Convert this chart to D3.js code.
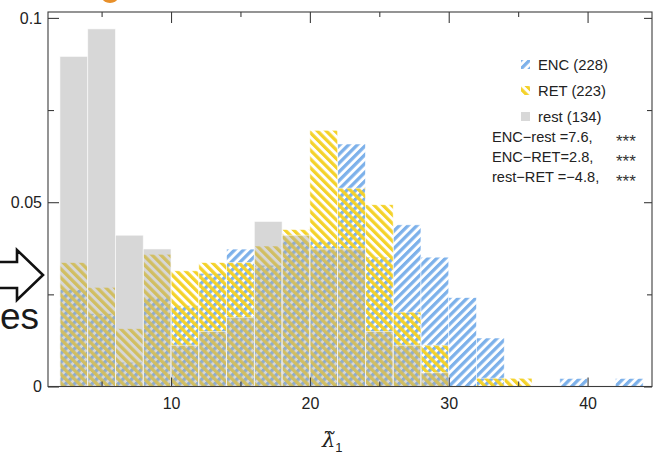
<!DOCTYPE html>
<html>
<head>
<meta charset="utf-8">
<script src="https://cdn.jsdelivr.net/npm/d3@7"></script>
<style>
  html, body { margin: 0; padding: 0; background: #fff; }
  svg { display: block; }
  text { font-family: "Liberation Sans", Arial, sans-serif; }
</style>
</head>
<body>
<svg id="chart" width="654" height="455"></svg>
<script>
// Histogram bins (width 2) of the normalised leading eigenvalue
const binEdges = [2, 4, 6, 8, 10, 12, 14, 16, 18, 20, 22, 24, 26, 28, 30, 32, 34, 36, 38, 40, 42, 44];

// Counts per bin for each condition
const encCounts  = [12, 9, 3, 11, 10, 14, 17, 15, 18, 18, 30, 16, 20, 16, 11, 6, 0, 0, 1, 0, 1];
const retCounts  = [15, 12, 7, 16, 14, 15, 15, 17, 19, 31, 24, 22, 9, 5, 0, 1, 1, 0, 0, 0, 0];
const restCounts = [24, 26, 11, 10, 3, 4, 5, 12, 11, 10, 10, 4, 3, 1, 0, 0, 0, 0, 0, 0, 0];

const groupNames = ["ENC", "RET", "rest"];
const groupSizes = [228, 223, 134];

const xMajorTicks = [10, 20, 30, 40];
const xMinorTicks = [5, 15, 25, 35];
const yMajorTicks = [0, 0.05, 0.1];
const yMinorTicks = [0.025, 0.075];

const statLabels = ["ENC\u2212rest =7.6,", "ENC\u2212RET=2.8,", "rest\u2212RET =\u22124.8,"];
const statStars  = ["***", "***", "***"];

const svg = d3.select("#chart");
const frame = { left: 48, right: 652, top: 12, bottom: 386.5 };

const x = d3.scaleLinear().domain([1.14, 44.64]).range([frame.left, frame.right]);
const y = d3.scaleLinear().domain([0, 0.1016]).range([frame.bottom, frame.top]);

// Hatch fills
const defs = svg.append("defs");
function hatch(id, color, angle) {
  const p = defs.append("pattern")
    .attr("id", id)
    .attr("patternUnits", "userSpaceOnUse")
    .attr("width", 6.2).attr("height", 6.2)
    .attr("patternTransform", `rotate(${angle})`);
  p.append("rect").attr("x", 0).attr("y", 0).attr("width", 3.3).attr("height", 6.2).attr("fill", color);
}
hatch("hatch-enc", "#7db1ea", 45);
hatch("hatch-ret", "#f4d22a", -45);

const styles = {
  ENC:  { fill: "url(#hatch-enc)", opacity: 1 },
  RET:  { fill: "url(#hatch-ret)", opacity: 1 },
  rest: { fill: "#a6a6a6", opacity: 0.45 }
};

const countsByGroup = [encCounts, retCounts, restCounts];
const binWidth = binEdges[1] - binEdges[0];

const barsLayer = svg.append("g");
groupNames.forEach((name, gi) => {
  const n = groupSizes[gi];
  const rows = countsByGroup[gi]
    .map((c, i) => ({ x0: binEdges[i], x1: binEdges[i + 1], density: c / (n * binWidth) }))
    .filter(d => d.density > 0);
  barsLayer.append("g")
    .selectAll("rect")
    .data(rows)
    .join("rect")
    .attr("x", d => x(d.x0))
    .attr("width", d => x(d.x1) - x(d.x0))
    .attr("y", d => y(d.density))
    .attr("height", d => y(0) - y(d.density))
    .attr("fill", styles[name].fill)
    .attr("fill-opacity", styles[name].opacity)
    .attr("stroke", "#fff")
    .attr("stroke-opacity", 0.7)
    .attr("stroke-width", 0.8);
});

// Frame
svg.append("rect")
  .attr("x", frame.left).attr("y", frame.top)
  .attr("width", frame.right - frame.left).attr("height", frame.bottom - frame.top)
  .attr("fill", "none").attr("stroke", "#3c3c3c").attr("stroke-width", 1.1);

const fmtY = d3.format("~g");
function styleAxis(g) {
  g.select(".domain").remove();
  g.selectAll(".tick line").attr("stroke", "#3c3c3c").attr("stroke-width", 1.1);
  g.selectAll(".tick text").attr("fill", "#222").attr("font-size", 16)
    .attr("font-family", "'Liberation Sans', Arial, sans-serif");
}

// Bottom axis (labelled) and minor ticks, all drawn inward
svg.append("g").attr("transform", `translate(0,${frame.bottom})`)
  .call(d3.axisBottom(x).tickValues(xMajorTicks).tickSize(-9).tickPadding(11).tickSizeOuter(0))
  .call(styleAxis);
svg.append("g").attr("transform", `translate(0,${frame.bottom})`)
  .call(d3.axisBottom(x).tickValues(xMinorTicks).tickSize(-5).tickFormat("").tickSizeOuter(0))
  .call(styleAxis);
// Top mirror ticks
svg.append("g").attr("transform", `translate(0,${frame.top})`)
  .call(d3.axisTop(x).tickValues(xMajorTicks).tickSize(-11).tickFormat("").tickSizeOuter(0))
  .call(styleAxis);
svg.append("g").attr("transform", `translate(0,${frame.top})`)
  .call(d3.axisTop(x).tickValues(xMinorTicks).tickSize(-5).tickFormat("").tickSizeOuter(0))
  .call(styleAxis);

// Left axis (labelled)
svg.append("g").attr("transform", `translate(${frame.left},0)`)
  .call(d3.axisLeft(y).tickValues(yMajorTicks).tickSize(-11).tickPadding(6).tickFormat(fmtY).tickSizeOuter(0))
  .call(styleAxis);
svg.append("g").attr("transform", `translate(${frame.left},0)`)
  .call(d3.axisLeft(y).tickValues(yMinorTicks).tickSize(-6).tickFormat("").tickSizeOuter(0))
  .call(styleAxis);
// Right mirror ticks
svg.append("g").attr("transform", `translate(${frame.right},0)`)
  .call(d3.axisRight(y).tickValues(yMajorTicks).tickSize(-8).tickFormat("").tickSizeOuter(0))
  .call(styleAxis);
svg.append("g").attr("transform", `translate(${frame.right},0)`)
  .call(d3.axisRight(y).tickValues(yMinorTicks).tickSize(-5).tickFormat("").tickSizeOuter(0))
  .call(styleAxis);

// Axis title: lambda with tilde accent, subscript 1
const title = svg.append("text")
  .attr("x", 322).attr("y", 447)
  .attr("fill", "#222");
title.append("tspan")
  .attr("font-family", "'DejaVu Serif', serif").attr("font-style", "italic").attr("font-size", 21)
  .text("\u03bb\u0303");
title.append("tspan")
  .attr("font-size", 13).attr("dy", 5)
  .text("1");

// Legend
const legend = svg.append("g");
const legendRows = groupNames.map((name, i) => ({ name, n: groupSizes[i], i }));
const rowY = [70, 96, 122];
legend.selectAll("rect.sw")
  .data(legendRows)
  .join("rect")
  .attr("class", "sw")
  .attr("x", 521).attr("y", d => rowY[d.i] - 10)
  .attr("width", 9).attr("height", 9)
  .attr("fill", d => d.name === "rest" ? "#d8d8d8" : styles[d.name].fill);
legend.selectAll("text.lb")
  .data(legendRows)
  .join("text")
  .attr("class", "lb")
  .attr("x", 538).attr("y", d => rowY[d.i])
  .attr("font-size", 14.8).attr("fill", "#222")
  .text(d => `${d.name} (${d.n})`);

// Pairwise comparison statistics
const statY = [142, 162, 182];
legend.selectAll("text.st")
  .data(statLabels)
  .join("text")
  .attr("class", "st")
  .attr("x", 492).attr("y", (d, i) => statY[i])
  .attr("font-size", 14.6).attr("fill", "#222")
  .text(d => d);
legend.selectAll("text.star")
  .data(statStars)
  .join("text")
  .attr("class", "star")
  .attr("x", 616).attr("y", (d, i) => statY[i] + 5)
  .attr("font-size", 17).attr("fill", "#333")
  .text(d => d);

// Slide overlay: arrow and word fragment at the left edge, ornament at top
const overlay = svg.append("g");
overlay.append("path")
  .attr("d", d3.line()([[0, 262], [17, 262], [17, 250], [43, 275], [17, 300], [17, 288], [0, 288]]))
  .attr("fill", "#fff").attr("stroke", "#111").attr("stroke-width", 2.6).attr("stroke-linejoin", "miter");
overlay.append("text")
  .attr("x", 0).attr("y", 329)
  .attr("font-family", "'Open Sans', sans-serif").attr("font-size", 37).attr("fill", "#1a1a1a")
  .text("es");
overlay.append("ellipse")
  .attr("cx", 110).attr("cy", -3).attr("rx", 8).attr("ry", 6)
  .attr("fill", "#e8902a");
</script>
</body>
</html>
